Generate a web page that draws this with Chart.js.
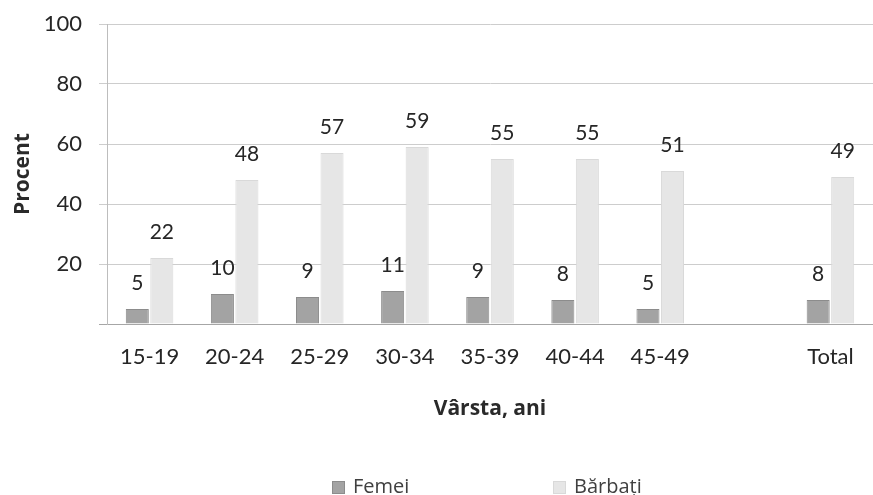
<!DOCTYPE html>
<html>
<head>
<meta charset="utf-8">
<script src="https://cdn.jsdelivr.net/npm/chart.js@4.4.0/dist/chart.umd.min.js"></script>
<style>
  html, body { margin: 0; padding: 0; background: #fff; }
</style>
</head>
<body>
<canvas id="chart" width="873" height="495"></canvas>
<script>
// age groups (empty slot before Total, as in the original)
var ageGroups = ['15-19', '20-24', '25-29', '30-34', '35-39', '40-44', '45-49', '', 'Total'];
var women = [5, 10, 9, 11, 9, 8, 5, null, 8];
var men = [22, 48, 57, 59, 55, 55, 51, null, 49];
var yTicks = [0, 20, 40, 60, 80, 100];

var NUM_FONT = 'Lato, "Open Sans", sans-serif';
var TXT_FONT = '"Open Sans", Lato, sans-serif';

// value labels above each bar
var barLabels = {
    id: 'barLabels',
    afterDatasetsDraw: function (chart) {
        var ctx = chart.ctx;
        ctx.save();
        ctx.font = '21px ' + NUM_FONT;
        ctx.fillStyle = '#262626';
        ctx.textAlign = 'center';
        ctx.textBaseline = 'middle';
        chart.data.datasets.forEach(function (ds, i) {
            chart.getDatasetMeta(i).data.forEach(function (bar, j) {
                var v = ds.data[j];
                if (v === null || v === undefined) return;
                ctx.fillText(String(v), bar.x, bar.y - 26);
            });
        });
        ctx.restore();
    }
};

// wide-spaced legend at the bottom
var bottomLegend = {
    id: 'bottomLegend',
    afterDraw: function (chart) {
        var ctx = chart.ctx;
        var mid = (chart.chartArea.left + chart.chartArea.right) / 2;
        var offsets = [-158, 63];
        var y = 487;
        ctx.save();
        ctx.font = '20px ' + TXT_FONT;
        ctx.textBaseline = 'middle';
        ctx.textAlign = 'left';
        chart.data.datasets.forEach(function (ds, i) {
            var x = mid + offsets[i];
            ctx.fillStyle = ds.backgroundColor;
            ctx.strokeStyle = ds.borderColor;
            ctx.lineWidth = 1;
            ctx.fillRect(x, y - 6, 13, 13);
            ctx.strokeRect(x + 0.5, y - 5.5, 12, 12);
            ctx.fillStyle = '#404040';
            ctx.fillText(ds.label, x + 21, y);
        });
        ctx.restore();
    }
};

var ctx = document.getElementById('chart');
var chart = new Chart(ctx, {
    type: 'bar',
    data: {
        labels: ageGroups,
        datasets: [
            {
                label: 'Femei',
                data: women,
                backgroundColor: '#a3a3a3',
                borderColor: '#8c8c8c',
                borderWidth: 1
            },
            {
                label: 'Bărbați',
                data: men,
                backgroundColor: '#e6e6e6',
                borderColor: '#d9d9d9',
                borderWidth: 1
            }
        ]
    },
    options: {
        responsive: false,
        animation: false,
        devicePixelRatio: 1,
        categoryPercentage: 0.576,
        barPercentage: 0.94,
        layout: {
            padding: { left: 0, right: 0, top: 24, bottom: 71 }
        },
        plugins: {
            legend: { display: false },
            tooltip: { enabled: false }
        },
        scales: {
            x: {
                grid: { display: false, drawTicks: false },
                border: { display: true, color: '#a6a6a6' },
                ticks: {
                    padding: 20,
                    color: '#262626',
                    font: { family: NUM_FONT, size: 22 }
                },
                title: {
                    display: true,
                    text: 'Vârsta, ani',
                    color: '#2a2a2a',
                    font: { family: TXT_FONT, size: 21, weight: 'bold' },
                    padding: { top: 0, bottom: 2 }
                },
                afterFit: function (scale) {
                    scale.height = 100;
                    scale.paddingLeft = 0;
                    scale.paddingRight = 0;
                }
            },
            y: {
                min: yTicks[0],
                max: yTicks[yTicks.length - 1],
                afterBuildTicks: function (scale) {
                    scale.ticks = yTicks.map(function (v) { return { value: v }; });
                },
                grid: {
                    color: function (c) { return c.tick && c.tick.value === 0 ? '#a6a6a6' : '#cdcdcd'; },
                    tickColor: function (c) { return c.tick && c.tick.value === 0 ? '#a6a6a6' : '#cdcdcd'; },
                    tickLength: 8
                },
                border: { display: true, color: '#bdbdbd' },
                ticks: {
                    padding: 17,
                    color: '#262626',
                    font: { family: NUM_FONT, size: 22 },
                    callback: function (v) { return v === 0 ? '' : v; }
                },
                title: {
                    display: true,
                    text: 'Procent',
                    color: '#2a2a2a',
                    font: { family: TXT_FONT, size: 21, weight: 'bold' },
                    padding: { top: 10, bottom: 0 }
                },
                afterFit: function (scale) {
                    scale.width = 107;
                    scale.paddingTop = 0;
                    scale.paddingBottom = 0;
                }
            }
        }
    },
    plugins: [barLabels, bottomLegend]
});
</script>
</body>
</html>
